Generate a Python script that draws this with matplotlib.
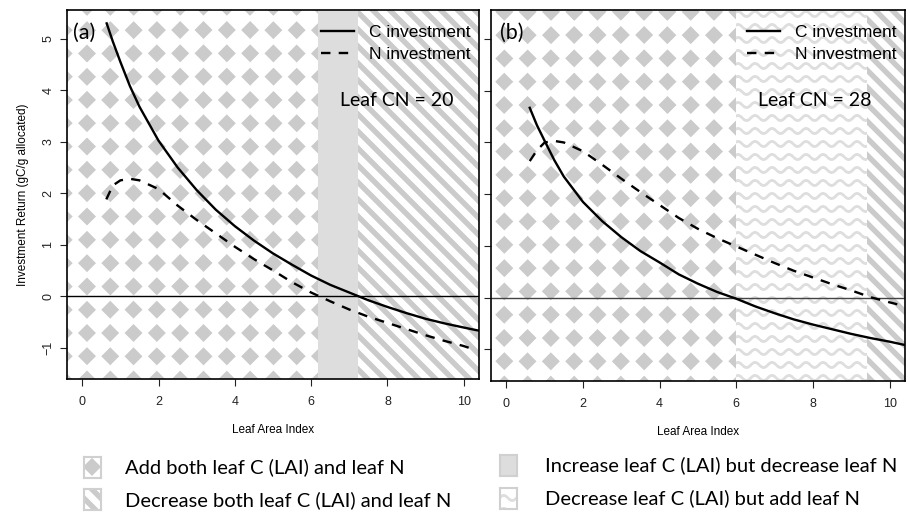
import numpy as np
import matplotlib.pyplot as plt

# ---- data ----
lai_c_a = [0.64, 0.8, 1.0, 1.25, 1.5, 2.0, 2.5, 3.0, 3.5, 4.0, 4.5, 5.0, 5.5, 6.0,
           6.5, 7.0, 7.5, 8.0, 8.5, 9.0, 9.5, 10.0, 10.39]
ret_c_a = [5.30, 4.95, 4.55, 4.08, 3.68, 3.02, 2.50, 2.06, 1.68, 1.36, 1.08, 0.83, 0.61, 0.40,
           0.22, 0.07, -0.08, -0.21, -0.33, -0.44, -0.53, -0.61, -0.67]
lai_n_a = [0.63, 0.8, 1.0, 1.25, 1.5, 2.0, 2.5, 3.0, 3.5, 4.0, 4.5, 5.0, 5.5, 6.0,
           6.5, 7.0, 7.5, 8.0, 8.5, 9.0, 9.5, 10.0, 10.2]
ret_n_a = [1.88, 2.15, 2.25, 2.28, 2.25, 2.08, 1.76, 1.48, 1.22, 0.96, 0.72, 0.50, 0.27, 0.07,
           -0.10, -0.26, -0.40, -0.52, -0.64, -0.76, -0.87, -0.97, -1.02]

lai_c_b = [0.61, 0.8, 1.0, 1.25, 1.5, 2.0, 2.5, 3.0, 3.5, 4.0, 4.5, 5.0, 5.5, 6.0,
           6.5, 7.0, 7.5, 8.0, 8.5, 9.0, 9.5, 10.0, 10.37]
ret_c_b = [3.67, 3.33, 3.03, 2.66, 2.34, 1.85, 1.48, 1.17, 0.90, 0.68, 0.45, 0.27, 0.11, -0.02,
           -0.17, -0.30, -0.42, -0.52, -0.61, -0.70, -0.78, -0.85, -0.91]
lai_n_b = [0.61, 0.8, 1.0, 1.25, 1.5, 2.0, 2.5, 3.0, 3.5, 4.0, 4.5, 5.0, 5.5, 6.0,
           6.5, 7.0, 7.5, 8.0, 8.5, 9.0, 9.5, 10.0, 10.37]
ret_n_b = [2.64, 2.85, 3.00, 3.03, 3.00, 2.83, 2.57, 2.30, 2.04, 1.79, 1.54, 1.33, 1.15, 0.99,
           0.83, 0.67, 0.52, 0.39, 0.26, 0.14, 0.01, -0.09, -0.16]

# zone edges (LAI) for each panel
zones_a = [(-0.4, 6.18, 'diamond'), (6.18, 7.24, 'solid'), (7.24, 10.4, 'stripe')]
zones_b = [(-0.4, 5.99, 'diamond'), (5.99, 9.42, 'wave'), (9.42, 10.4, 'stripe')]

cn_labels = ['Leaf CN = 20', 'Leaf CN = 28']
panel_tags = ['(a)', '(b)']
series_labels = ['C investment', 'N investment']
zone_labels = ['Add both leaf C (LAI) and leaf N', 'Decrease both leaf C (LAI) and leaf N',
               'Increase leaf C (LAI) but decrease leaf N', 'Decrease leaf C (LAI) but add leaf N']

W, H = 910, 516
fig = plt.figure(figsize=(W / 100, H / 100), dpi=100)

GREY = 203 / 255.
LIGHT = 221 / 255.
WAVE = 222 / 255.


def pattern(kind, PX, PY, ph):
    ox, oy = ph
    if kind == 'diamond':
        P = 23.3
        dx = (PX - ox) % P
        dx = np.minimum(dx, P - dx)
        dy = (PY - oy) % P
        dy = np.minimum(dy, P - dy)
        return np.where(dx + dy <= 9.0, GREY, 1.0)
    if kind == 'stripe':
        s = (PX - PY - ox) % 17.0
        return np.where(s < 7.5, GREY, 1.0)
    if kind == 'solid':
        return np.full(PX.shape, LIGHT)
    if kind == 'wave':
        Py, Lx, A = 13.0, 17.0, 2.5
        ph2 = 2 * np.pi * (PX - ox) / Lx
        t = (PY - oy - A * np.sin(ph2)) % Py
        d = np.minimum(t, Py - t)
        slope = A * 2 * np.pi / Lx * np.cos(ph2)
        d = d / np.sqrt(1 + slope ** 2)
        return np.where(d < 1.4, WAVE, 1.0)
    return np.ones(PX.shape)


def fill_zone(ax, x0, x1, y0, y1, kind, ph, ss=3):
    X0, Y0 = ax.transData.transform((x0, y0))
    X1, Y1 = ax.transData.transform((x1, y1))
    c0, c1 = int(round(X0)), int(round(X1))
    r0, r1 = int(round(H - Y1)), int(round(H - Y0))
    px = np.arange(c0 * ss, c1 * ss) / ss + 0.5 / ss
    py = np.arange(r0 * ss, r1 * ss) / ss + 0.5 / ss
    PX, PY = np.meshgrid(px, py)
    g = pattern(kind, PX, PY, ph)
    g = g.reshape(r1 - r0, ss, c1 - c0, ss).mean(axis=(1, 3))
    img = np.dstack([g, g, g])
    inv = ax.transData.inverted()
    ex0, ey1 = inv.transform((c0, H - r0))
    ex1, ey0 = inv.transform((c1, H - r1))
    ax.imshow(img, extent=(ex0, ex1, ey0, ey1), aspect='auto',
              interpolation='nearest', zorder=0)


plt.rcParams['font.family'] = ['Liberation Sans', 'DejaVu Sans']
calibri = ['Lato', 'DejaVu Sans']

axes_pos = [[67 / W, 1 - 379 / H, 412 / W, 369 / H],
            [491 / W, 1 - 381 / H, 414 / W, 371 / H]]
phases = [(87, 123.3), (504.3, 105)]
data = [(lai_c_a, ret_c_a, lai_n_a, ret_n_a, zones_a),
        (lai_c_b, ret_c_b, lai_n_b, ret_n_b, zones_b)]
ylim = (-1.61, 5.56)
xlim = (-0.4, 10.4)

for i, (xc, yc, xn, yn, zones) in enumerate(data):
    ax = fig.add_axes(axes_pos[i])
    ax.set_xlim(xlim)
    ax.set_ylim(ylim)
    for (z0, z1, kind) in zones:
        fill_zone(ax, z0, z1, ylim[0], ylim[1], kind, phases[i])
    ax.set_xlim(xlim)
    ax.set_ylim(ylim)
    ax.axhline(0, color='black' if i == 0 else '#444444', lw=1.0, zorder=2)
    ax.plot(xc, yc, color='black', lw=1.7, label=series_labels[0], zorder=3)
    ax.plot(xn, yn, color='black', lw=1.7, dashes=(4, 3.5), label=series_labels[1], zorder=3)
    ax.set_xticks(range(0, 11, 2))
    ax.set_yticks(range(-1, 6))
    ax.tick_params(direction='out', length=5, width=0.8, labelsize=9, pad=7,
                   colors='#222222')
    ax.tick_params(axis='y', pad=4)
    for sp in ax.spines.values():
        sp.set_linewidth(1.2)
    if i == 0:
        ax.set_yticklabels([str(v).replace('-', '\u2212') for v in range(-1, 6)],
                           rotation=90, va='center')
        ax.set_ylabel('Investment Return (gC/g allocated)', fontsize=8.5, labelpad=10)
    else:
        ax.set_yticklabels([])
    ax.set_xlabel('Leaf Area Index', fontsize=8.5, labelpad=12)
    ax.text(0.015 if i == 0 else 0.022, 0.938, panel_tags[i], transform=ax.transAxes,
            fontsize=15.5, family=calibri, va='center', ha='left', zorder=4)
    ax.text(0.80 if i == 0 else 0.783, 0.756, cn_labels[i], transform=ax.transAxes,
            fontsize=14, family=calibri, va='center', ha='center', zorder=4)
    ax.legend(loc='upper right', bbox_to_anchor=(0.989, 0.970), frameon=False,
              fontsize=12.5, handlelength=1.9, handletextpad=0.9, labelspacing=0.42,
              borderaxespad=0, borderpad=0.2)

# bottom key
key_kinds = ['diamond', 'stripe', 'solid', 'wave']
key_icon = [(84, 457), (84, 489), (500, 455), (500, 488)]
key_text = [(125, 467), (125, 500), (545, 465), (545, 498)]
for kind, (ix, iy), (tx, ty), lab in zip(key_kinds, key_icon, key_text, zone_labels):
    iax = fig.add_axes([ix / W, 1 - (iy + 21) / H, 17 / W, 21 / H])
    iax.set_xlim(0, 1)
    iax.set_ylim(0, 1)
    fill_zone(iax, 0, 1, 0, 1, kind, (ix + 8, iy + 10), ss=3)
    iax.set_xlim(0, 1)
    iax.set_ylim(0, 1)
    iax.set_xticks([])
    iax.set_yticks([])
    for sp in iax.spines.values():
        sp.set_color('#d0d0d0')
        sp.set_linewidth(1.5)
    fig.text(tx / W, 1 - ty / H, lab, fontsize=14.5, family=calibri, va='center', ha='left')

fig.savefig('out.png', dpi=100)
